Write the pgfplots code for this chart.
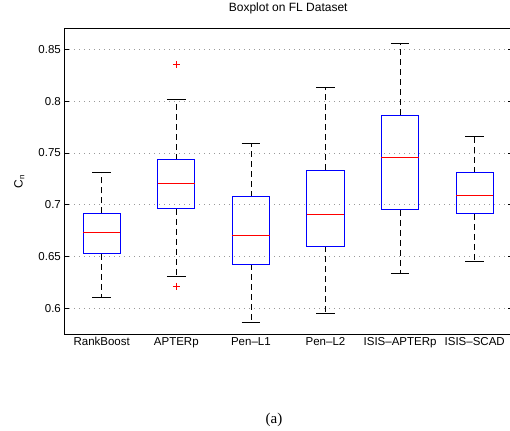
\documentclass[border=0pt]{standalone}
\usepackage{fontspec}
\setmainfont{Liberation Sans}
\newfontfamily\capfont{Liberation Serif}
\usepackage{pgfplots}
\usepgfplotslibrary{statistics}
\pgfplotsset{compat=1.18}

\newcommand\chartfont{\fontsize{11.5}{13.8}\selectfont}

\begin{document}
\begin{tikzpicture}[x=1pt,y=1pt]
\useasboundingbox (0,0) rectangle (510,430);
\begin{axis}[
  at={(64.4pt,96pt)}, anchor=south west,
  scale only axis, width=447.6pt, height=305.3pt,
  xmin=0.5, xmax=6.5, ymin=0.575, ymax=0.87,
  axis line style={line width=0.9pt},
  xtick={1,2,3,4,5,6},
  xticklabels={RankBoost, APTERp, Pen–L1, Pen–L2, ISIS–APTERp, ISIS–SCAD},
  xtick style={draw=none},
  ytick={0.6,0.65,0.7,0.75,0.8,0.85},
  yticklabels={0.6,0.65,0.7,0.75,0.8,0.85},
  tick align=inside, ytick pos=both,
  major tick length=4.5pt,
  ytick style={line width=0.7pt, black},
  ymajorgrids,
  grid style={gray!80, line width=0.7pt, dash pattern=on 0.8pt off 4.2pt},
  tick label style={font=\chartfont},
  title={Boxplot on FL Dataset},
  title style={font=\fontsize{12}{14.4}\selectfont, at={(0.5,1)}, anchor=center, yshift=14pt},
  ylabel={C$_{\mathrm{n}}$},
  ylabel style={font=\fontsize{12}{14.4}\selectfont, at={(axis description cs:0,0.5)}, anchor=center, yshift=45pt},
  boxplot/draw direction=y,
  boxplot/box extend=0.5,
  boxplot/whisker extend=0.25,
  boxplot/every box/.style={draw=blue, line width=1pt},
  boxplot/every median/.style={draw=red, line width=1pt},
  boxplot/draw/lower whisker/.code={%
    \draw[black, line width=0.8pt, dash pattern=on 6pt off 4pt]
      (boxplot box cs:\pgfplotsboxplotvalue{lower quartile},0.5) --
      (boxplot box cs:\pgfplotsboxplotvalue{lower whisker},0.5);
    \draw[black, line width=0.8pt]
      (boxplot whisker cs:\pgfplotsboxplotvalue{lower whisker},0) --
      (boxplot whisker cs:\pgfplotsboxplotvalue{lower whisker},1);
  },
  boxplot/draw/upper whisker/.code={%
    \draw[black, line width=0.8pt, dash pattern=on 6pt off 4pt]
      (boxplot box cs:\pgfplotsboxplotvalue{upper quartile},0.5) --
      (boxplot box cs:\pgfplotsboxplotvalue{upper whisker},0.5);
    \draw[black, line width=0.8pt]
      (boxplot whisker cs:\pgfplotsboxplotvalue{upper whisker},0) --
      (boxplot whisker cs:\pgfplotsboxplotvalue{upper whisker},1);
  },
]
% RankBoost
\addplot[blue, mark=+, mark size=3.5pt, mark options={red, solid, line width=0.8pt},
  boxplot prepared={draw position=1, lower whisker=0.6104, lower quartile=0.6523,
    median=0.6727, upper quartile=0.6916, upper whisker=0.7313}]
  coordinates {};
% APTERp
\addplot[blue, mark=+, mark size=3.5pt, mark options={red, solid, line width=0.8pt},
  boxplot prepared={draw position=2, lower whisker=0.6311, lower quartile=0.6959,
    median=0.7201, upper quartile=0.7436, upper whisker=0.8019}]
  coordinates {(0,0.8352) (0,0.6210)};
% Pen-L1
\addplot[blue, mark=+, mark size=3.5pt, mark options={red, solid, line width=0.8pt},
  boxplot prepared={draw position=3, lower whisker=0.5866, lower quartile=0.6426,
    median=0.6700, upper quartile=0.7075, upper whisker=0.7594}]
  coordinates {};
% Pen-L2
\addplot[blue, mark=+, mark size=3.5pt, mark options={red, solid, line width=0.8pt},
  boxplot prepared={draw position=4, lower whisker=0.5946, lower quartile=0.6597,
    median=0.6900, upper quartile=0.7333, upper whisker=0.8132}]
  coordinates {};
% ISIS-APTERp
\addplot[blue, mark=+, mark size=3.5pt, mark options={red, solid, line width=0.8pt},
  boxplot prepared={draw position=5, lower whisker=0.6340, lower quartile=0.6949,
    median=0.7455, upper quartile=0.7865, upper whisker=0.8555}]
  coordinates {};
% ISIS-SCAD
\addplot[blue, mark=+, mark size=3.5pt, mark options={red, solid, line width=0.8pt},
  boxplot prepared={draw position=6, lower whisker=0.6455, lower quartile=0.6910,
    median=0.7084, upper quartile=0.7307, upper whisker=0.7658}]
  coordinates {};
\end{axis}
\node[font=\capfont\fontsize{15}{18}\selectfont, inner sep=0pt, anchor=center] at (274,10) {(a)};
\end{tikzpicture}
\end{document}
